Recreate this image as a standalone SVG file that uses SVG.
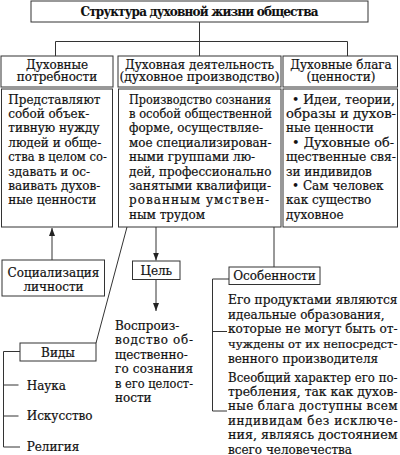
<svg xmlns="http://www.w3.org/2000/svg" width="400" height="455" viewBox="0 0 400 455">
<style>
text{font-family:"DejaVu Serif","Liberation Serif",serif;font-size:12px;fill:#111;stroke:#111;stroke-width:0.2}
.c{text-anchor:middle}
.b{font-weight:bold;stroke-width:0.1}
.s{font-size:11.4px}
.box{fill:#fff;stroke:#333;stroke-width:1}
.ln{fill:none;stroke:#333;stroke-width:1}
</style>
<defs>
<marker id="ah" viewBox="0 0 8 10" refX="8" refY="5" markerWidth="8" markerHeight="10" markerUnits="userSpaceOnUse" orient="auto">
<path d="M0,2 L8,5 L0,8 Z" fill="#222"/>
</marker>
</defs>
<rect width="400" height="455" fill="#fff"/>
<g id="connectors">
<path class="ln" d="M199.5,22 V56 M55.5,56 V41.5 H347.5 V56"/>
<path class="ln" d="M52,260 V228" marker-end="url(#ah)"/>
<path class="ln" d="M156,227 V260.5" marker-end="url(#ah)"/>
<path class="ln" d="M156,279.5 V311" marker-end="url(#ah)"/>
<path class="ln" d="M127,227 L96,343"/>
<path class="ln" d="M274,227 V267"/>
<path class="ln" d="M20,351.5 H3.5 V447 H20 M3.5,385 H18.5 M3.5,416 H18.5"/>
<path class="ln" d="M229,279 H212.5 V411 H227 M212.5,331.5 H227"/>
</g>
<g id="title">
<rect class="box" x="31" y="1" width="337" height="21"/>
<text class="c b" x="199.5" y="15.5" textLength="238" lengthAdjust="spacing">Структура духовной жизни общества</text>
</g>
<g id="needs">
<rect class="box" x="1" y="56" width="112" height="31"/>
<text class="c" x="57" y="68.5">Духовные</text>
<text class="c" x="57" y="81">потребности</text>
</g>
<g id="needs-desc">
<rect class="box" x="1.5" y="89" width="111" height="138"/>
<text x="8.3" y="103.5">Представляют</text>
<text x="8.3" y="117.9">собой объек-</text>
<text x="8.3" y="132.3">тивную нужду</text>
<text x="8.3" y="146.7">людей и обще-</text>
<text x="8.3" y="161.1" textLength="98.5" lengthAdjust="spacingAndGlyphs">ства в целом со-</text>
<text x="8.3" y="175.5">здавать и ос-</text>
<text x="8.3" y="189.9">ваивать духов-</text>
<text x="8.3" y="204.3">ные ценности</text>
</g>
<g id="activity">
<rect class="box" x="118" y="56" width="163" height="31"/>
<text class="c" x="199.5" y="68.5">Духовная деятельность</text>
<text class="c" x="199.5" y="81" textLength="160" lengthAdjust="spacingAndGlyphs">(духовное производство)</text>
</g>
<g id="activity-desc">
<rect class="box" x="118.5" y="89" width="162.5" height="138"/>
<text x="129" y="103.5" textLength="142" lengthAdjust="spacingAndGlyphs">Производство сознания</text>
<text x="129" y="117.9" textLength="143" lengthAdjust="spacingAndGlyphs">в особой общественной</text>
<text x="129" y="132.3">форме, осуществляе-</text>
<text x="129" y="146.7" textLength="142.5" lengthAdjust="spacingAndGlyphs">мое специализирован-</text>
<text x="129" y="161.1">ными группами лю-</text>
<text x="129" y="175.5" textLength="142.5" lengthAdjust="spacingAndGlyphs">дей, профессионально</text>
<text x="129" y="189.9" textLength="142" lengthAdjust="spacingAndGlyphs">занятыми квалифици-</text>
<text x="129" y="204.3" textLength="140" lengthAdjust="spacing">рованным  умствен-</text>
<text x="129" y="218.7">ным трудом</text>
</g>
<g id="goods">
<rect class="box" x="283" y="56" width="114.5" height="31"/>
<text class="c" x="341" y="68.5">Духовные блага</text>
<text class="c" x="341" y="81">(ценности)</text>
</g>
<g id="goods-desc">
<rect class="box" x="283" y="89" width="114.5" height="138"/>
<text x="292" y="103.5" textLength="103" lengthAdjust="spacingAndGlyphs">• Идеи, теории,</text>
<text x="286" y="117.9" textLength="110" lengthAdjust="spacingAndGlyphs">образы и духов-</text>
<text x="286" y="132.3">ные ценности</text>
<text x="292" y="146.7" textLength="102" lengthAdjust="spacingAndGlyphs">• Духовные об-</text>
<text x="286" y="161.1" textLength="110" lengthAdjust="spacingAndGlyphs">щественные свя-</text>
<text x="286" y="175.5">зи индивидов</text>
<text x="292" y="189.9">• Сам человек</text>
<text x="286" y="204.3">как существо</text>
<text x="286" y="218.7">духовное</text>
</g>
<g id="socialization">
<rect class="box" x="2" y="260" width="102.5" height="36"/>
<text class="c" x="53.5" y="276.5">Социализация</text>
<text class="c" x="53.5" y="290.5">личности</text>
</g>
<g id="goal">
<rect class="box" x="132.5" y="261" width="47.5" height="18.5"/>
<text class="c" x="156.3" y="274.5">Цель</text>
</g>
<g id="goal-desc">
<text x="115" y="329.5">Воспроиз-</text>
<text x="115" y="344" textLength="78" lengthAdjust="spacing">водство об-</text>
<text x="115" y="358.5">щественно-</text>
<text x="115" y="373" textLength="78" lengthAdjust="spacing">го сознания</text>
<text x="115" y="387.5" textLength="78" lengthAdjust="spacingAndGlyphs">в его целост-</text>
<text x="115" y="402">ности</text>
</g>
<g id="features">
<rect class="box" x="229" y="267" width="91" height="17.5"/>
<text class="c" x="274.5" y="279.5">Особенности</text>
</g>
<g id="features-desc">
<text x="228" y="303.8" textLength="169.5" lengthAdjust="spacingAndGlyphs">Его продуктами являются</text>
<text x="228" y="318.6">идеальные образования,</text>
<text x="228" y="333.4" textLength="169.5" lengthAdjust="spacingAndGlyphs">которые не могут быть от-</text>
<text class="s" x="228" y="348.2" textLength="169.5" lengthAdjust="spacingAndGlyphs">чуждены от их непосредст-</text>
<text x="228" y="363">венного производителя</text>
<text x="228" y="381.5" textLength="169.5" lengthAdjust="spacingAndGlyphs">Всеобщий характер его по-</text>
<text x="228" y="395.9" textLength="169.5" lengthAdjust="spacingAndGlyphs">требления, так как духов-</text>
<text x="228" y="410.3" textLength="169.5" lengthAdjust="spacing">ные блага доступны всем</text>
<text x="228" y="424.7" textLength="169.5" lengthAdjust="spacing">индивидам без исключе-</text>
<text x="228" y="439.1" textLength="169.5" lengthAdjust="spacingAndGlyphs">ния, являясь достоянием</text>
<text x="228" y="453.5">всего человечества</text>
</g>
<g id="kinds">
<rect class="box" x="20" y="343" width="76" height="18"/>
<text class="c" x="58" y="356.5">Виды</text>
</g>
<g id="kinds-list">
<text x="26.7" y="390">Наука</text>
<text x="26.7" y="420">Искусство</text>
<text x="26.7" y="451">Религия</text>
</g>
</svg>
